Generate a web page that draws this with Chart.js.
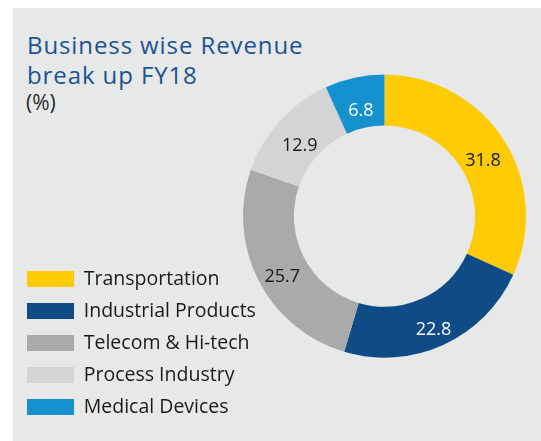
<!DOCTYPE html>
<html lang="en">
<head>
    <meta charset="UTF-8">
    <title>Business wise Revenue break up FY18</title>
    <style>
        body {
            margin: 0;
            background: #ffffff;
            font-family: "Open Sans", Arial, sans-serif;
        }
        #painel {
            position: absolute;
            left: 13px;
            top: 8px;
            width: 528px;
            height: 433px;
            background: #e7e8e8;
        }
        #titulo {
            position: absolute;
            left: 27px;
            top: 30px;
            font-size: 24px;
            line-height: 30px;
            letter-spacing: 0.9px;
            color: #1b5293;
        }
        #unidade {
            position: absolute;
            left: 26px;
            top: 89px;
            font-size: 21px;
            line-height: 26px;
            color: #2a2a2a;
        }
        .chart-container {
            position: absolute;
            left: 0;
            top: 0;
            width: 541px;
            height: 441px;
        }
    </style>
</head>
<body>
    <div id="painel"></div>
    <div id="titulo">Business wise Revenue<br>break up FY18</div>
    <div id="unidade">(%)</div>
    <div class="chart-container">
        <canvas id="revenueChart"></canvas>
    </div>

    <script src="https://cdn.jsdelivr.net/npm/chart.js"></script>

    <script>
        // dados
        const segmentos = ["Transportation", "Industrial Products", "Telecom & Hi-tech", "Process Industry", "Medical Devices"];
        const percentuais = [31.8, 22.8, 25.7, 12.9, 6.8];
        const cores = ["#ffcb05", "#0f4c87", "#a9aaac", "#d3d4d6", "#1591d0"];
        const coresRotulo = ["#1a1a1a", "#ffffff", "#1a1a1a", "#1a1a1a", "#ffffff"];

        // escreve o valor no meio de cada fatia (um pouco abaixo, como no original)
        const rotulosFatias = {
            id: "rotulosFatias",
            afterDatasetsDraw(chart) {
                const ctx = chart.ctx;
                const meta = chart.getDatasetMeta(0);
                ctx.save();
                ctx.font = "18px 'Open Sans', sans-serif";
                ctx.textAlign = "center";
                ctx.textBaseline = "middle";
                meta.data.forEach((arco, i) => {
                    const pos = arco.tooltipPosition();
                    ctx.fillStyle = coresRotulo[i];
                    ctx.fillText(percentuais[i].toFixed(1), pos.x + 1, pos.y + 8);
                });
                ctx.restore();
            }
        };

        // a legenda fica estreita para o anel ficar no lugar, mas o texto nao pode ser cortado
        const legendaLarga = {
            id: "legendaLarga",
            afterLayout(chart) {
                chart.legend.right += 40;
                chart.legend.width += 40;
            }
        };

        let ctx = document.getElementById("revenueChart").getContext("2d");
        let revenueChart = new Chart(ctx, {
            type: "doughnut",
            data: {
                labels: segmentos,
                datasets: [{
                    data: percentuais,
                    backgroundColor: cores,
                    borderWidth: 0
                }]
            },
            options: {
                responsive: true,
                maintainAspectRatio: false,
                animation: false,
                cutout: "64%",
                layout: {
                    padding: { left: 14.5, top: 3, right: 15, bottom: 11.75 }
                },
                plugins: {
                    legend: {
                        position: "left",
                        align: "end",
                        maxWidth: 228.5,
                        labels: {
                            boxWidth: 47,
                            boxHeight: 16,
                            padding: 12.5,
                            color: "#1a1a1a",
                            font: { family: "'Open Sans', sans-serif", size: 19.5 }
                        }
                    },
                    tooltip: { enabled: false }
                }
            },
            plugins: [rotulosFatias, legendaLarga]
        });
    </script>
</body>
</html>
